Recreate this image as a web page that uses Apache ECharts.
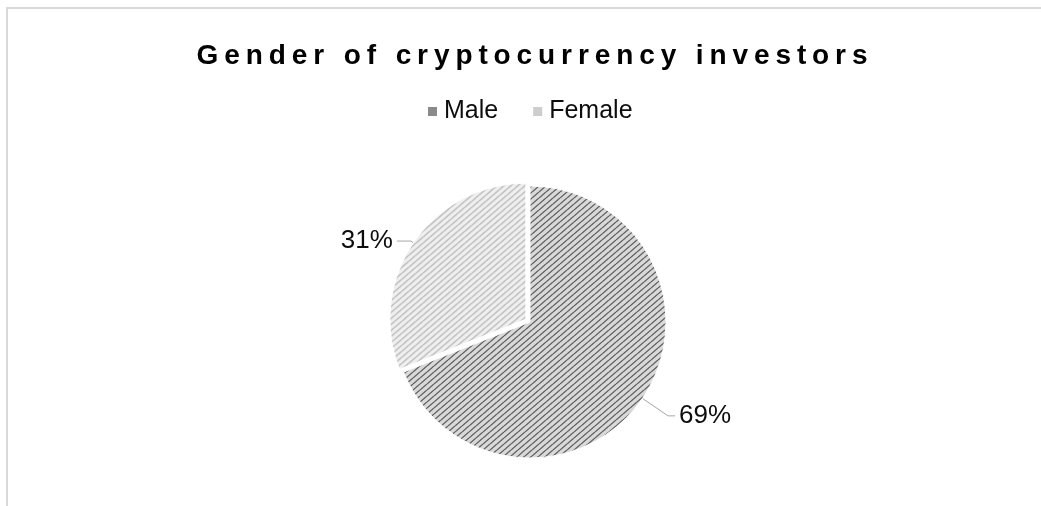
<!DOCTYPE html>
<html>
<head>
<meta charset="utf-8">
<script src="https://cdn.jsdelivr.net/npm/echarts@6/dist/echarts.min.js"></script>
<style>
  html, body { margin: 0; padding: 0; background: #ffffff; }
  #chart { width: 1041px; height: 506px; }
</style>
</head>
<body>
<div id="chart"></div>
<script>
// Survey result: share of cryptocurrency investors by gender (percent)
const categories = ['Male', 'Female'];
const shares = [69, 31];
const titleText = 'Gender of cryptocurrency investors';

// The title is drawn with wide letter spacing; canvas text supports it natively.
const TITLE_SIZE = 28;
const TITLE_SPACING = 5.9;
const nativeFillText = CanvasRenderingContext2D.prototype.fillText;
CanvasRenderingContext2D.prototype.fillText = function (text, x, y, maxWidth) {
  const isTitle = /bold/.test(this.font) && this.font.indexOf(TITLE_SIZE + 'px') >= 0;
  this.letterSpacing = isTitle ? TITLE_SPACING + 'px' : '0px';
  return maxWidth === undefined
    ? nativeFillText.call(this, text, x, y)
    : nativeFillText.call(this, text, x, y, maxWidth);
};

// Diagonal hatch tile used as a repeating fill
function hatch(bg, fg, w, h, lw) {
  const c = document.createElement('canvas');
  c.width = w; c.height = h;
  const g = c.getContext('2d');
  g.fillStyle = bg;
  g.fillRect(0, 0, w, h);
  g.strokeStyle = fg;
  g.lineWidth = lw;
  for (const n of [-1, 0, 1]) {
    g.beginPath();
    g.moveTo(0, h + n * h);
    g.lineTo(w, n * h);
    g.stroke();
  }
  return { image: c, repeat: 'repeat' };
}

const fills = [
  hatch('#d9d9d9', '#5e5e5e', 7, 6, 1.3),
  hatch('#f0f0f0', '#b5b5b5', 7, 6, 1.3)
];
// Small legend swatches read as flat tones of the hatches
const swatches = ['#8a8a8a', '#cdcdcd'];

const labelLines = [
  { length: 31, length2: 7 },
  { length: 3, length2: 14 }
];

const FONT = '"Liberation Sans", Arial, sans-serif';

const chart = echarts.init(document.getElementById('chart'), null, { renderer: 'canvas' });

chart.setOption({
  animation: false,
  backgroundColor: '#ffffff',
  graphic: [{
    type: 'rect',
    shape: { x: 7, y: 8, width: 1200, height: 800 },
    style: { fill: 'none', stroke: '#d9d9d9', lineWidth: 2 },
    silent: true,
    z: -1
  }],
  title: {
    text: titleText,
    left: 530,
    top: 37,
    textAlign: 'center',
    textStyle: {
      fontFamily: FONT,
      fontSize: TITLE_SIZE,
      fontWeight: 'bold',
      color: '#000000'
    }
  },
  legend: {
    data: categories.map((name, i) => ({ name: name, itemStyle: { color: swatches[i] } })),
    left: 421,
    top: 94,
    icon: 'rect',
    itemWidth: 11,
    itemHeight: 11,
    itemGap: 33,
    selectedMode: false,
    textStyle: {
      fontFamily: FONT,
      fontSize: 25,
      color: '#0d0d0d',
      padding: [0, 0, 0, 1]
    }
  },
  series: [{
    type: 'pie',
    center: [530, 322],
    radius: 136,
    startAngle: 90,
    clockwise: true,
    selectedMode: 'single',
    selectedOffset: 5,
    avoidLabelOverlap: false,
    emphasis: { disabled: true },
    itemStyle: { borderColor: '#ffffff', borderWidth: 1 },
    label: {
      show: true,
      formatter: '{c}%',
      fontFamily: FONT,
      fontSize: 26,
      color: '#0d0d0d',
      distanceToLabelLine: 4
    },
    labelLine: {
      show: true,
      lineStyle: { color: '#a6a6a6', width: 1 }
    },
    data: categories.map((name, i) => ({
      name: name,
      value: shares[i],
      selected: name === 'Female',
      itemStyle: { color: fills[i] },
      labelLine: labelLines[i]
    }))
  }]
});
</script>
</body>
</html>
